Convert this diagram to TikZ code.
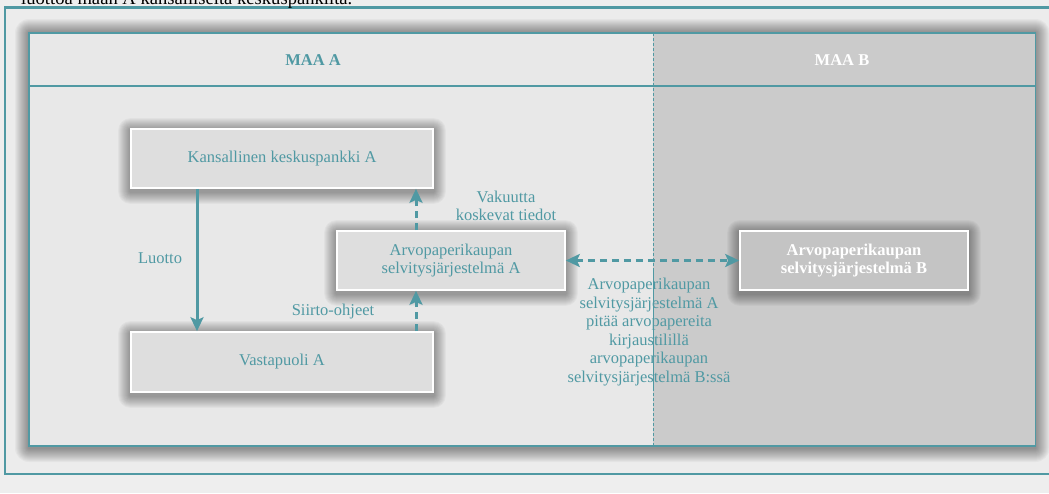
\documentclass[tikz,border=0pt]{standalone}
\usepackage{fontspec}
\setmainfont{Liberation Serif}
\usetikzlibrary{arrows.meta}
\definecolor{tealc}{RGB}{80,153,163}
\definecolor{bgc}{RGB}{238,238,238}
\definecolor{framec}{RGB}{236,236,236}
\definecolor{panelL}{RGB}{232,232,232}
\definecolor{panelR}{RGB}{203,203,203}
\definecolor{boxc}{RGB}{222,222,222}
\definecolor{boxB}{RGB}{196,196,196}
\pgfdeclarelayer{bottom}
\pgfdeclarelayer{shadowlayer}
\pgfsetlayers{bottom,shadowlayer,main}
\newcommand\mysoftshadow[3]{% node, steps, opacity
  \foreach \i in {1,...,#2}{%
    \fill[black, opacity=#3, rounded corners=\i pt]
      ([xshift=-\i pt, yshift=\i pt-2pt]#1.north west) rectangle ([xshift=\i pt, yshift=-\i pt-3pt]#1.south east);
  }}
\tikzset{
  txt/.style={font=\fontsize{16.5}{18.6}\selectfont, text=tealc, align=center, inner sep=0pt},
  stagebox/.style={draw=white, line width=1.6pt, fill=boxc, inner sep=0pt,
    minimum height=59pt, txt},
  boxBstyle/.style={stagebox, fill=boxB, text=white, font=\fontsize{16.5}{18.6}\selectfont\bfseries},
  solidarrow/.style={draw=tealc, line width=3pt, -{Stealth[length=14pt,width=13pt,inset=3pt]}},
  dasharrow/.style={draw=tealc, line width=3pt, dash pattern=on 7pt off 5pt, -{Stealth[length=14pt,width=13pt,inset=3pt]}},
  dasharrows/.style={dasharrow, {Stealth[length=14pt,width=13pt,inset=3pt]}-{Stealth[length=14pt,width=13pt,inset=3pt]}},
  headtxt/.style={font=\fontsize{16.5}{18.6}\selectfont\bfseries, inner sep=0pt}
}
\begin{document}
\begin{tikzpicture}[x=1pt,y=-1pt]
\useasboundingbox (0,0) rectangle (1049,493);
\begin{pgfonlayer}{bottom}
\fill[bgc] (0,0) rectangle (1049,493);
% outer frame
\draw[tealc, line width=2.2pt, fill=framec] (5,7.5) rectangle (1070,474);
\coordinate (pnw) at (29,33);
\coordinate (pse) at (1035.5,446);
\foreach \i in {1,...,14}{%
  \fill[black, opacity=0.03, rounded corners=\i pt]
    ([xshift=-\i pt, yshift=\i pt]pnw) rectangle ([xshift=\i pt, yshift=-\i pt-2pt]pse);
}
\fill[panelL] (pnw) rectangle (pse);
\fill[panelR] (653,33) rectangle (pse);
\draw[tealc, line width=1.3pt] (pnw) rectangle (pse);
\draw[tealc, line width=2.4pt] (29,86) -- (1035.5,86);
\draw[tealc, line width=1pt, dash pattern=on 3pt off 2pt] (653,33) -- (653,446);
\end{pgfonlayer}
\node[anchor=base west, inner sep=0pt, font=\fontsize{18.6}{20}\selectfont] (toptext) at (21,4.5) {luottoa maan A kansalliselta keskuspankilta.};
\node[headtxt, text=tealc] (maaA) at (313,60) {MAA A};
\node[headtxt, text=white] (maaB) at (842,60) {MAA B};
% boxes
\node[stagebox, minimum width=302pt] (kA) at (282,158.5) {Kansallinen keskuspankki A};
\node[stagebox, minimum width=228pt] (sA) at (451,260.5) {Arvopaperikaupan\\selvitysjärjestelmä A};
\node[stagebox, minimum width=302pt, minimum height=60pt] (vA) at (282,362) {Vastapuoli A};
\node[boxBstyle, minimum width=228pt] (sB) at (854,260.5) {Arvopaperikaupan\\selvitysjärjestelmä B};
\begin{pgfonlayer}{shadowlayer}
\mysoftshadow{kA}{12}{0.03}
\mysoftshadow{sA}{12}{0.03}
\mysoftshadow{vA}{12}{0.03}
\mysoftshadow{sB}{12}{0.03}
\end{pgfonlayer}
% connectors
\draw[solidarrow] (kA.south -| 197,0) -- (vA.north -| 197,0);
\draw[dasharrow] (sA.north -| 416,0) -- (kA.south -| 416,0);
\draw[dasharrow] (vA.north -| 416,0) -- (sA.south -| 416,0);
\draw[dasharrows] (sA.east) -- (sB.west);
% labels
\node[txt] (lluotto) at (160,258) {Luotto};
\node[txt] (lvak) at (506,206) {Vakuutta\\koskevat tiedot};
\node[txt] (lsiirto) at (333,312) {Siirto-ohjeet};
\node[txt] (lpitaa) at (649,332) {Arvopaperikaupan\\selvitysjärjestelmä A\\pitää arvopapereita\\kirjaustilillä\\arvopaperikaupan\\selvitysjärjestelmä B:ssä};
\draw[tealc, line width=1pt, dash pattern=on 3pt off 2pt] (653,270) -- (653,390);
\end{tikzpicture}
\end{document}
